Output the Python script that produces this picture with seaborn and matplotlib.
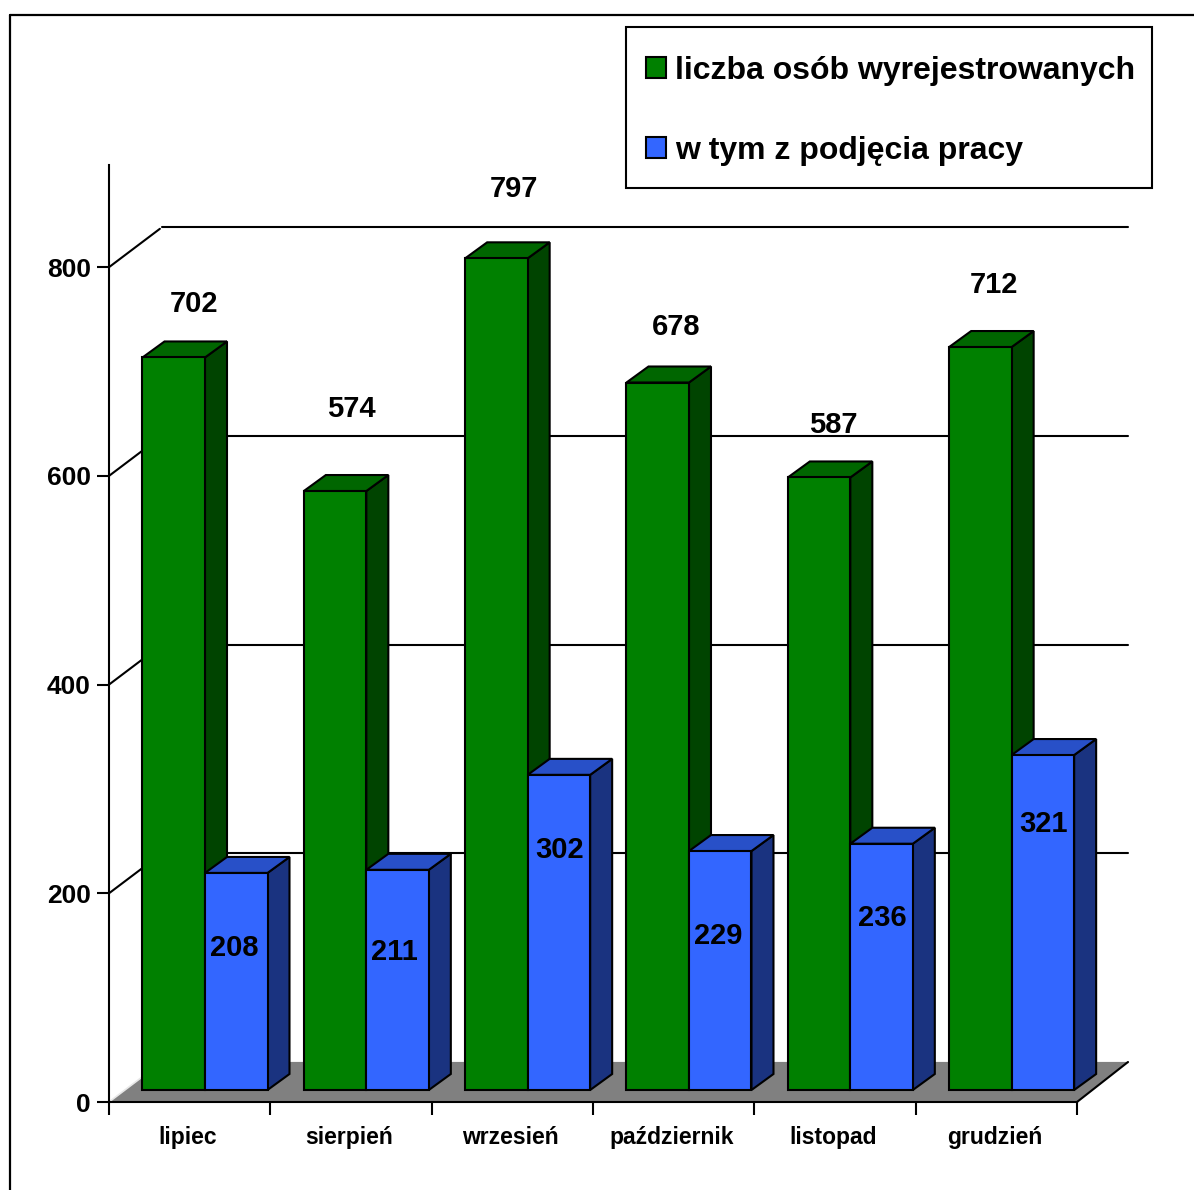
import matplotlib
matplotlib.use("Agg")
import matplotlib.pyplot as plt
import pandas as pd
import seaborn as sns
from matplotlib.lines import Line2D
from matplotlib.patches import Polygon, Rectangle
from matplotlib.transforms import ScaledTranslation

# === Dane ===
months = ["lipiec", "sierpień", "wrzesień", "październik", "listopad", "grudzień"]
wyrejestrowani = [702, 574, 797, 678, 587, 712]
podjecie_pracy = [208, 211, 302, 229, 236, 321]
y_ticks = [0, 200, 400, 600, 800]
series_names = ["liczba osób wyrejestrowanych", "w tym z podjęcia pracy"]

# === Kolory ===
front_colors = ["#008000", "#3366FF"]
top_colors = ["#006600", "#2850C8"]
side_colors = ["#004400", "#1A3380"]

# === Przesunięcia etykiet (w pikselach) ===
green_label_off = [(20, 53), (16, 82), (18, 69), (18, 56), (14, 52), (14, 62)]
blue_label_off = [(-2, -75), (-3, -82), (1, -75), (-2, -85), (1, -74), (1, -69)]

W, H = 1194, 1190
PX_PER_UNIT = 1.0435
PX_PER_CAT = 161.33

sns.set_style("white")
plt.rcParams["font.family"] = ["Liberation Sans", "DejaVu Sans"]
plt.rcParams["font.weight"] = "bold"
plt.rcParams["text.color"] = "black"
plt.rcParams["xtick.color"] = "black"
plt.rcParams["ytick.color"] = "black"


def fig_rect(left, top, right, bottom):
    return [left / W, 1 - bottom / H, (right - left) / W, (bottom - top) / H]


fig = plt.figure(figsize=(W / 100, H / 100), dpi=100)

# === Ramka ===
fig.add_artist(Line2D([10 / W, 10 / W], [0, 1 - 15 / H], color="black", lw=1.6))
fig.add_artist(Line2D([10 / W, 1], [1 - 15 / H, 1 - 15 / H], color="black", lw=1.6))

# === Oś przednia: podziałki, podłoga, siatka ===
ax = fig.add_axes(fig_rect(109, 165, 1077, 1102))
ax.patch.set_alpha(0)
ax.set_xlim(0, 6)
ax.set_ylim(0, 937 / PX_PER_UNIT)
for s in ["top", "right"]:
    ax.spines[s].set_visible(False)
for s in ["left", "bottom"]:
    ax.spines[s].set_linewidth(1.5)
    ax.spines[s].set_color("black")

ax.set_yticks(y_ticks)
ax.set_xticks([i + 0.5 for i in range(6)])
ax.set_xticklabels(months, fontsize=16.5, fontweight="bold")
ax.set_xticks(range(7), minor=True)
ax.tick_params(axis="y", length=9, width=1.5, pad=4, labelsize=19, left=True)
ax.tick_params(axis="x", which="major", length=0, pad=17)
ax.tick_params(axis="x", which="minor", length=9, width=1.5, bottom=True)
for lab in ax.get_yticklabels():
    lab.set_fontweight("bold")
for lab in ax.get_xticklabels():
    lab.set_transform(lab.get_transform() + ScaledTranslation(-2 / 100, 0, fig.dpi_scale_trans))

back_left = 53 / PX_PER_CAT
back_right = 6 + 51 / PX_PER_CAT
back_dy = 40 / PX_PER_UNIT
floor = Polygon(
    [(0, 0), (6, 0), (back_right, back_dy), (back_left, back_dy)],
    closed=True, facecolor="#808080", edgecolor="none", zorder=0.5, clip_on=False,
)
ax.add_patch(floor)
ax.plot([6, back_right], [0, back_dy], color="black", lw=1.5, zorder=0.6, clip_on=False)
ax.plot([0, back_left], [0, back_dy], color="#E8E8E8", lw=1.2, zorder=0.6, clip_on=False)
ax.plot([back_left, back_right], [back_dy, back_dy], color="#C8C8C8", lw=1, zorder=0.4, clip_on=False)
for v in y_ticks[1:]:
    ax.plot([back_left, back_right], [v + back_dy, v + back_dy], color="black", lw=1.5, zorder=0.6, clip_on=False)
    ax.plot([0, back_left * 0.96], [v, v + back_dy * 0.96], color="black", lw=1.5, zorder=0.6, clip_on=False)

# === Słupki ===
df = pd.DataFrame({"miesiac": months, series_names[0]: wyrejestrowani, series_names[1]: podjecie_pracy})
long_df = df.melt(id_vars="miesiac", var_name="seria", value_name="liczba")

ax_bars = fig.add_axes([0, 0, 1, 1])
ax_bars.patch.set_alpha(0)
sns.barplot(
    data=long_df, x="miesiac", y="liczba", hue="seria", hue_order=series_names,
    palette=front_colors, saturation=1, width=125 / PX_PER_CAT,
    edgecolor="black", linewidth=1.5, ax=ax_bars,
)
ax_bars.set_xlim(-205 / PX_PER_CAT, (W - 205) / PX_PER_CAT)
ax_bars.set_ylim(-(H - 1090) / PX_PER_UNIT, 1090 / PX_PER_UNIT)
ax_bars.axis("off")

depth_x = 22 / PX_PER_CAT
depth_y = 16 / PX_PER_UNIT
offsets = [green_label_off, blue_label_off]
for k, bars in enumerate(ax_bars.containers):
    for i, bar in enumerate(bars):
        x0 = bar.get_x()
        x1 = x0 + bar.get_width()
        h = bar.get_height()
        bar.set_zorder(2 + 2 * k + 0.5)
        side = Polygon(
            [(x1, 0), (x1 + depth_x, depth_y), (x1 + depth_x, h + depth_y), (x1, h)],
            closed=True, facecolor=side_colors[k], edgecolor="black", lw=1.5, zorder=2 + 2 * k,
        )
        top = Polygon(
            [(x0, h), (x1, h), (x1 + depth_x, h + depth_y), (x0 + depth_x, h + depth_y)],
            closed=True, facecolor=top_colors[k], edgecolor="black", lw=1.5, zorder=2 + 2 * k,
        )
        ax_bars.add_patch(side)
        ax_bars.add_patch(top)
        ax_bars.annotate(
            str(int(h)), xy=(x0 + bar.get_width() / 2, h),
            xytext=offsets[k][i], textcoords="offset pixels",
            ha="center", va="center", fontsize=21, fontweight="bold", color="black", zorder=10,
        )

# === Legenda ===
legend_box = Rectangle(
    (626 / W, 1 - 188 / H), 526 / W, 161 / H, transform=fig.transFigure,
    facecolor="white", edgecolor="black", lw=1.5, zorder=19,
)
ax_bars.add_patch(legend_box)
legend_box.set_clip_on(False)

handles, labels = ax_bars.get_legend_handles_labels()
leg = ax_bars.legend(
    handles, labels,
    loc="upper left", bbox_to_anchor=(626 / W, 1 - 36 / H), bbox_transform=fig.transFigure,
    borderaxespad=0, frameon=False, handlelength=0.63, handleheight=0.63, handletextpad=0.28,
    labelspacing=1.56, borderpad=0.63,
    prop={"weight": "bold", "size": 23},
)
leg.set_zorder(20)

fig.savefig("out.png", dpi=100, facecolor="white")
